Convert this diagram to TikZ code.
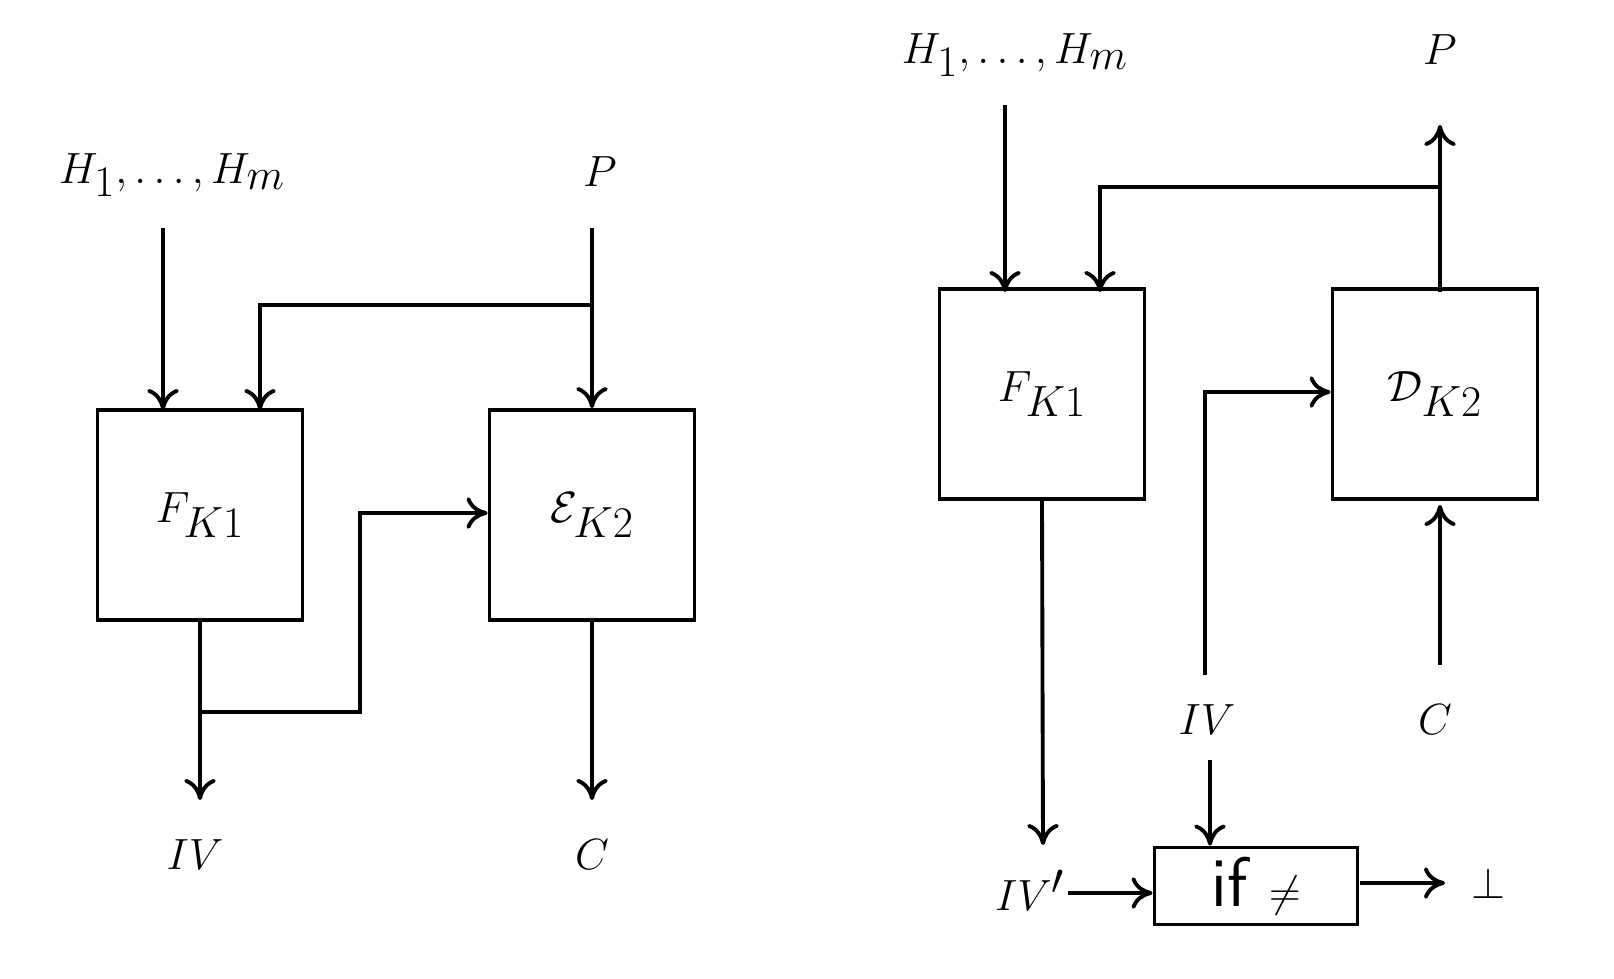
\documentclass[tikz,border=0pt]{standalone}
\usepackage{fontspec}
\usetikzlibrary{arrows.meta}
\begin{document}
\begin{tikzpicture}[x=0.02cm,y=-0.02cm,
  box/.style={draw,line width=2.2pt,minimum width=4.1cm,minimum height=4.2cm,inner sep=0,font=\fontsize{46}{50}\selectfont},
  lbl/.style={font=\fontsize{46}{50}\selectfont,inner sep=0},
  ar/.style={line width=2.2pt,-{To[length=12pt,width=18pt,line width=2.2pt]}},
  ln/.style={line width=2.2pt}]
\useasboundingbox (0,0) rectangle (1614,978);
% left
\node[box] (F) at (200,515) {$F_{K1}$};
\node[box] (E) at (592,515) {$\mathcal{E}_{K2}$};
\node[lbl] (H) at (172,175) {$H_1,\ldots,H_m$};
\node[lbl] (P) at (600,172) {$P$};
\node[lbl] (IV) at (195,855) {$IV$};
\node[lbl] (C) at (592,855) {$C$};
\coordinate (h1) at (163,228); \coordinate (h2) at (163,410);
\draw[ar] (h1) -- (h2);
\coordinate (p1) at (592,228); \coordinate (p2) at (592,305);
\draw[ar] (p1) -- (E.north);
\draw[ar] (p2) -- (260,305) -- (260,410);
\coordinate (f1) at (200,712);
\draw[ar] (F.south) -- (200,800);
\draw[ar] (f1) -- (360,712) -- (360,513) -- (E.west |- 0,513);
\draw[ar] (E.south) -- (592,800);
% right
\node[box] (F2) at (1042,394) {$F_{K1}$};
\node[box] (D) at (1435,394) {$\mathcal{D}_{K2}$};
\node[lbl] (H2) at (1015,55) {$H_1,\ldots,H_m$};
\node[lbl] (P2) at (1440,50) {$P$};
\node[lbl] (IV2) at (1207,720) {$IV$};
\node[lbl] (C2) at (1435,720) {$C$};
\node[lbl] (IVp) at (1030,890) {$IV'$};
\node[draw,line width=2.2pt,minimum width=4.06cm,minimum height=1.54cm,inner sep=0,font=\fontsize{40}{44}\sffamily] (if) at (1256,886) {if $\neq$};
\node[lbl] (bot) at (1488,883) {$\perp$};
\coordinate (a1) at (1005,105);
\draw[ar] (a1) -- (1005,292);
\coordinate (d1) at (1440,292); \coordinate (d2) at (1440,187);
\draw[ar] (d1) -- (1440,125);
\draw[ar] (d2) -- (1100,187) -- (1100,292);
\coordinate (i1) at (1205,675);
\draw[ar] (i1) -- (1205,392) -- (D.west |- 0,392);
\coordinate (c1) at (1440,665);
\draw[ar] (c1) -- (1440,505);
\draw[ar] (F2.south) -- (1043,845);
\draw[ar] (1210,760) -- (if.north -| 1210,0);
\coordinate (v1) at (1068,893);
\draw[ar] (v1) -- (if.west |- v1);
\coordinate (v2) at (1360,883);
\draw[ar] (v2) -- (1445,883);
\end{tikzpicture}
\end{document}
